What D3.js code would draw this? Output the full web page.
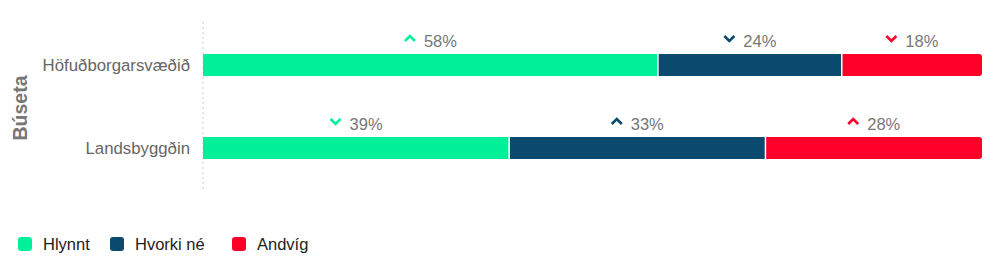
<!DOCTYPE html>
<html><head><meta charset="utf-8">
<script src="https://cdn.jsdelivr.net/npm/d3@7"></script>
<style>body{margin:0;background:#fff;font-family:"Liberation Sans",Arial,sans-serif;}</style>
</head><body><svg id="c" width="999" height="269" font-family="Liberation Sans, Arial, sans-serif"></svg>
<script>
const categories = ["Höfuðborgarsvæðið", "Landsbyggðin"];
const seriesNames = ["Hlynnt", "Hvorki né", "Andvíg"];
const seriesColors = ["#00f09a", "#0b4a6f", "#ff0028"];
const hlynnt = [58.4, 39.3];
const hvorki = [23.6, 32.9];
const andvig = [18.0, 27.8];
const labels = [["58%", "24%", "18%"], ["39%", "33%", "28%"]];
const arrows = [["up", "down", "down"], ["down", "up", "up"]];
const axisTitle = "Búseta";

const svg = d3.select("#c");
const x = d3.scaleLinear().domain([0, 100]).range([203, 982]);
const y = d3.scaleBand().domain(categories).range([22, 191]).paddingInner(0.735).paddingOuter(0.3855);

const series = [hlynnt, hvorki, andvig];
const rows = categories.map((c, i) => {
  let acc = 0;
  return series.map((s, k) => { const d = {cat: c, k, x0: acc, x1: acc + s[i], label: labels[i][k], arrow: arrows[i][k]}; acc += s[i]; return d; });
});

// dashed axis line
svg.append("line").attr("x1", x(0)).attr("x2", x(0)).attr("y1", 22).attr("y2", 190)
  .attr("stroke", "#ccc").attr("stroke-dasharray", "2,3");

// category labels
svg.selectAll(".cat").data(categories).join("text")
  .attr("x", 190).attr("y", d => y(d) + y.bandwidth() / 2 + 6)
  .attr("text-anchor", "end").attr("font-size", 16.8).attr("fill", "#666").text(d => d);

// axis title
svg.append("text").attr("transform", "translate(27,108) rotate(-90)")
  .attr("text-anchor", "middle").attr("font-size", 19.5).attr("font-weight", "bold").attr("fill", "#777").text(axisTitle);

rows.forEach((row, i) => {
  const g = svg.append("g");
  row.forEach((d, k) => {
    const yy = y(d.cat), h = y.bandwidth();
    const x0 = x(d.x0), x1 = x(d.x1);
    const last = k === row.length - 1;
    const r = 3;
    let path;
    if (last) {
      path = `M${x0},${yy}H${x1 - r}Q${x1},${yy} ${x1},${yy + r}V${yy + h - r}Q${x1},${yy + h} ${x1 - r},${yy + h}H${x0}Z`;
    } else {
      path = `M${x0},${yy}H${x1}V${yy + h}H${x0}Z`;
    }
    g.append("path").attr("d", path).attr("fill", seriesColors[k]);
    if (k > 0) g.append("line").attr("x1", x0).attr("x2", x0).attr("y1", yy).attr("y2", yy + h).attr("stroke", "#fff").attr("stroke-width", 1.5);
    // label
    const cx = (x0 + x1) / 2;
    const base = yy - 7;
    const txt = g.append("text").attr("y", base).attr("font-size", 16.5).attr("fill", "#777").text(d.label);
    const tw = txt.node().getComputedTextLength();
    const ax = cx - (8 + tw) / 2;
    txt.attr("x", ax + 14);
    const ay = base - 8.5;
    const cp = d.arrow === "up" ? `M${ax - 5},${ay + 2.5}L${ax},${ay - 2.5}L${ax + 5},${ay + 2.5}` : `M${ax - 5},${ay - 2.5}L${ax},${ay + 2.5}L${ax + 5},${ay - 2.5}`;
    g.append("path").attr("d", cp).attr("fill", "none").attr("stroke", seriesColors[k]).attr("stroke-width", 2.6);
  });
});

// legend
const legX = [18, 110, 232];
const lg = svg.selectAll(".leg").data(seriesNames).join("g").attr("transform", (d, i) => `translate(${legX[i]},237)`);
lg.append("rect").attr("width", 14).attr("height", 14).attr("rx", 3).attr("fill", (d, i) => seriesColors[i]);
lg.append("text").attr("x", 25).attr("y", 13).attr("font-size", 16.5).attr("fill", "#222").text(d => d);
</script></body></html>
